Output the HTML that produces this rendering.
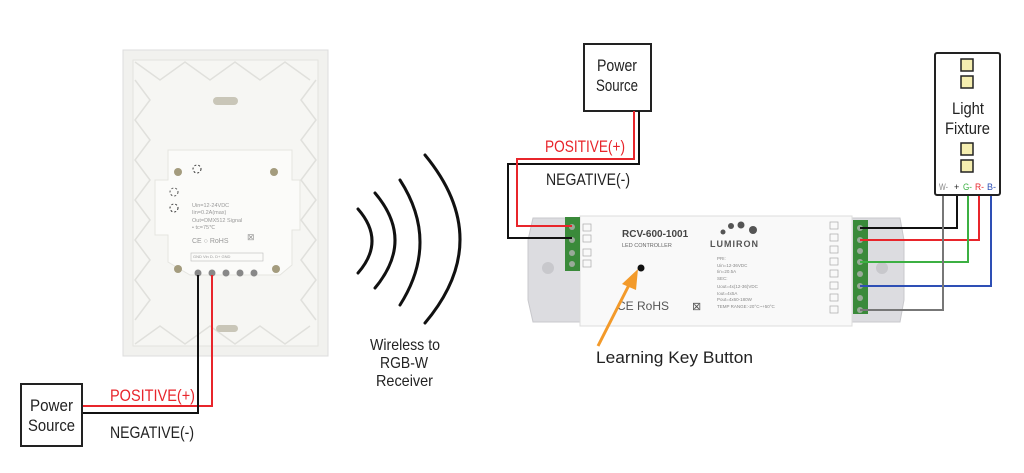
<!DOCTYPE html>
<html><head><meta charset="utf-8"><style>
html,body{margin:0;padding:0;background:#fff;width:1024px;height:473px;overflow:hidden}
svg{display:block}
.t{font-family:"Liberation Sans",sans-serif;}
</style></head><body>
<svg width="1024" height="473" viewBox="0 0 1024 473" xmlns="http://www.w3.org/2000/svg">
<!-- Wall plate -->
<rect x="123" y="50" width="205" height="306" fill="#f1f1ee" stroke="#ddd"/>
<rect x="133" y="60" width="185" height="286" fill="#f6f6f3" stroke="#e3e3df"/>
<g stroke="#e0e0dc" fill="none" stroke-width="1.5">
<path d="M135 62 L160 80 L185 62 L210 80 L235 62 L260 80 L285 62 L310 80"/>
<path d="M135 344 L160 326 L185 344 L210 326 L235 344 L260 326 L285 344 L310 326"/>
<path d="M135 80 L150 100 L135 120 L150 140 L135 160 L150 180 L135 200 L150 220 L135 240 L150 260 L135 280 L150 300 L135 320"/>
<path d="M316 80 L301 100 L316 120 L301 140 L316 160 L301 180 L316 200 L301 220 L316 240 L301 260 L316 280 L301 300 L316 320"/>
</g>
<rect x="213" y="97" width="25" height="8" rx="4" fill="#c9c6b8"/>
<rect x="216" y="325" width="22" height="7" rx="3.5" fill="#c9c6b8"/>
<!-- module -->
<path d="M168 150 H292 V180 H300 V230 H292 V265 L280 275 H190 L168 262 V235 H155 V180 H168 Z" fill="#fbfbf9" stroke="#e5e5e0"/>
<circle cx="178" cy="172" r="4" fill="#a49c7e"/><circle cx="274" cy="172" r="4" fill="#a49c7e"/>
<circle cx="178" cy="269" r="4" fill="#a49c7e"/><circle cx="276" cy="269" r="4" fill="#a49c7e"/>
<circle cx="197" cy="169" r="4" fill="none" stroke="#333" stroke-dasharray="2 2"/>
<circle cx="174" cy="192" r="4" fill="none" stroke="#555" stroke-dasharray="2 2"/>
<circle cx="174" cy="208" r="4" fill="none" stroke="#333" stroke-dasharray="2 2"/>
<g font-family="Liberation Sans,sans-serif" font-size="5.5" fill="#999">
<text x="192" y="207">Uin=12-24VDC</text><text x="192" y="214">Iin=0.2A(max)</text>
<text x="192" y="222">Out=DMX512 Signal</text><text x="192" y="229">• tc=75℃</text>
<text x="192" y="243" font-size="7">CE ○ RoHS</text><text x="247" y="240" font-size="9">⊠</text>
<text x="193" y="258" font-size="4">GND  Vin   D-    D+  GND</text></g>
<rect x="191" y="253" width="72" height="8" fill="none" stroke="#bbb" stroke-width="0.6"/>
<g fill="#888"><circle cx="198" cy="273" r="3.5"/><circle cx="212" cy="273" r="3.5"/><circle cx="226" cy="273" r="3.5"/><circle cx="240" cy="273" r="3.5"/><circle cx="254" cy="273" r="3.5"/></g>
<!-- left wiring -->
<polyline points="212,275 212,406 82,406" fill="none" stroke="#e8252b" stroke-width="2"/>
<polyline points="198,275 198,413 82,413" fill="none" stroke="#111" stroke-width="2"/>
<rect x="21" y="384" width="61" height="62" fill="#fff" stroke="#222" stroke-width="2"/>
<text class="t" x="30" y="411" font-size="17" textLength="43" lengthAdjust="spacingAndGlyphs" fill="#222">Power</text>
<text class="t" x="28" y="431" font-size="17" textLength="47" lengthAdjust="spacingAndGlyphs" fill="#222">Source</text>
<text class="t" x="110" y="401" font-size="17" textLength="85" lengthAdjust="spacingAndGlyphs" fill="#e8252b">POSITIVE(+)</text>
<text class="t" x="110" y="438" font-size="17" textLength="84" lengthAdjust="spacingAndGlyphs" fill="#222">NEGATIVE(-)</text>
<!-- waves -->
<g fill="none" stroke="#111" stroke-width="3" stroke-linecap="round">
<path d="M358 209 Q386 241 358 273"/>
<path d="M375 193 Q415 240 375 288"/>
<path d="M400 180 Q440 242 400 305"/>
<path d="M425 155 Q495 240 425 323"/>
</g>
<text class="t" x="370" y="350" font-size="16" textLength="70" lengthAdjust="spacingAndGlyphs" fill="#222">Wireless to</text>
<text class="t" x="380" y="368" font-size="16" textLength="48" lengthAdjust="spacingAndGlyphs" fill="#222">RGB-W</text>
<text class="t" x="376" y="386" font-size="16" textLength="57" lengthAdjust="spacingAndGlyphs" fill="#222">Receiver</text>
<!-- controller -->
<path d="M533 218 H900 L904 240 V300 L900 322 H533 L528 300 V240 Z" fill="#dcdce0" stroke="#c8c8cc"/>
<rect x="580" y="216" width="272" height="110" fill="#f9f9f9" stroke="#ddd"/>
<rect x="565" y="217" width="15" height="54" fill="#3a8a3a"/>
<rect x="853" y="220" width="15" height="94" fill="#3a8a3a"/>
<g fill="#9a9"><circle cx="572" cy="227" r="3"/><circle cx="572" cy="240" r="3"/><circle cx="572" cy="253" r="3"/><circle cx="572" cy="264" r="3"/>
<circle cx="860" cy="228" r="3"/><circle cx="860" cy="240" r="3"/><circle cx="860" cy="251" r="3"/><circle cx="860" cy="262" r="3"/><circle cx="860" cy="274" r="3"/><circle cx="860" cy="286" r="3"/><circle cx="860" cy="298" r="3"/><circle cx="860" cy="310" r="3"/></g>
<circle cx="548" cy="268" r="6" fill="#c8c8cc"/><circle cx="882" cy="268" r="6" fill="#c8c8cc"/>
<text x="622" y="237" font-family="Liberation Sans,sans-serif" font-weight="bold" font-size="10" fill="#444">RCV-600-1001</text>
<text x="622" y="247" font-family="Liberation Sans,sans-serif" font-size="5.5" fill="#666">LED CONTROLLER</text>
<g fill="#555"><circle cx="723" cy="232" r="2.5"/><circle cx="731" cy="226" r="3"/><circle cx="741" cy="225" r="3.5"/><circle cx="753" cy="230" r="4"/></g>
<text x="710" y="247" font-family="Liberation Sans,sans-serif" font-weight="bold" font-size="9" fill="#555" letter-spacing="1">LUMIRON</text>
<circle cx="641" cy="268" r="3.5" fill="#111"/>
<g font-family="Liberation Sans,sans-serif" font-size="4.5" fill="#888">
<text x="717" y="260">PRI:</text><text x="717" y="267">Uin=12-36VDC</text><text x="717" y="273">Iin=20.5A</text>
<text x="717" y="280">SEC:</text><text x="717" y="288">Uout=4x(12-36)VDC</text><text x="717" y="295">Iout=4x5A</text>
<text x="717" y="301">Pout=4x60-180W</text><text x="717" y="308">TEMP RANGE:-20°C~+50°C</text></g>
<text x="617" y="310" font-family="Liberation Sans,sans-serif" font-size="12" fill="#555">CE RoHS</text>
<text x="692" y="310" font-family="Liberation Sans,sans-serif" font-size="11" fill="#555">⊠</text>
<g fill="none" stroke="#aaa" stroke-width="0.7"><rect x="583" y="224" width="8" height="7"/><rect x="583" y="235" width="8" height="7"/><rect x="583" y="249" width="8" height="7"/><rect x="583" y="260" width="8" height="7"/>
<rect x="830" y="222" width="8" height="7"/><rect x="830" y="234" width="8" height="7"/><rect x="830" y="246" width="8" height="7"/><rect x="830" y="258" width="8" height="7"/><rect x="830" y="270" width="8" height="7"/><rect x="830" y="282" width="8" height="7"/><rect x="830" y="294" width="8" height="7"/><rect x="830" y="306" width="8" height="7"/></g>
<!-- arrow -->
<line x1="598" y1="346" x2="630" y2="283" stroke="#f39a2a" stroke-width="3"/>
<polygon points="638,269 622,284 636,290" fill="#f39a2a"/>
<text class="t" x="596" y="363" font-size="17" textLength="157" lengthAdjust="spacingAndGlyphs" fill="#222">Learning Key Button</text>
<!-- right power -->
<rect x="584" y="44" width="67" height="67" fill="#fff" stroke="#222" stroke-width="2"/>
<text class="t" x="597" y="71" font-size="17" textLength="40" lengthAdjust="spacingAndGlyphs" fill="#222">Power</text>
<text class="t" x="596" y="91" font-size="17" textLength="42" lengthAdjust="spacingAndGlyphs" fill="#222">Source</text>
<polyline points="639,111 639,164 508,164 508,238 572,238" fill="none" stroke="#111" stroke-width="2"/>
<polyline points="634,111 634,159 517,159 517,226 572,226" fill="none" stroke="#e8252b" stroke-width="2"/>
<text class="t" x="545" y="152" font-size="17" textLength="80" lengthAdjust="spacingAndGlyphs" fill="#e8252b">POSITIVE(+)</text>
<text class="t" x="546" y="185" font-size="17" textLength="84" lengthAdjust="spacingAndGlyphs" fill="#222">NEGATIVE(-)</text>
<!-- fixture wires -->
<polyline points="860,228 957,228 957,195" fill="none" stroke="#111" stroke-width="2"/>
<polyline points="860,240 979,240 979,195" fill="none" stroke="#e8252b" stroke-width="2"/>
<polyline points="860,262 968,262 968,195" fill="none" stroke="#3cb043" stroke-width="2"/>
<polyline points="860,286 991,286 991,195" fill="none" stroke="#2e4fb5" stroke-width="2"/>
<polyline points="860,310 943,310 943,195" fill="none" stroke="#777" stroke-width="2"/>
<rect x="935" y="53" width="65" height="142" rx="2" fill="#fff" stroke="#222" stroke-width="2"/>
<g fill="#f5eeb0" stroke="#222" stroke-width="1.5"><rect x="961" y="59" width="12" height="12"/><rect x="961" y="76" width="12" height="12"/><rect x="961" y="143" width="12" height="12"/><rect x="961" y="160" width="12" height="12"/></g>
<text class="t" x="952" y="114" font-size="17" textLength="32" lengthAdjust="spacingAndGlyphs" fill="#222">Light</text>
<text class="t" x="945" y="134" font-size="17" textLength="45" lengthAdjust="spacingAndGlyphs" fill="#222">Fixture</text>
<g class="t" font-size="9"><text x="939" y="190" fill="#888" textLength="9" lengthAdjust="spacingAndGlyphs">W-</text><text x="954" y="190" fill="#222">+</text><text x="963" y="190" fill="#3cb043" textLength="9" lengthAdjust="spacingAndGlyphs">G-</text><text x="975" y="190" fill="#e8252b" textLength="9" lengthAdjust="spacingAndGlyphs">R-</text><text x="987" y="190" fill="#2e4fb5" textLength="9" lengthAdjust="spacingAndGlyphs">B-</text></g>
</svg>
</body></html>
